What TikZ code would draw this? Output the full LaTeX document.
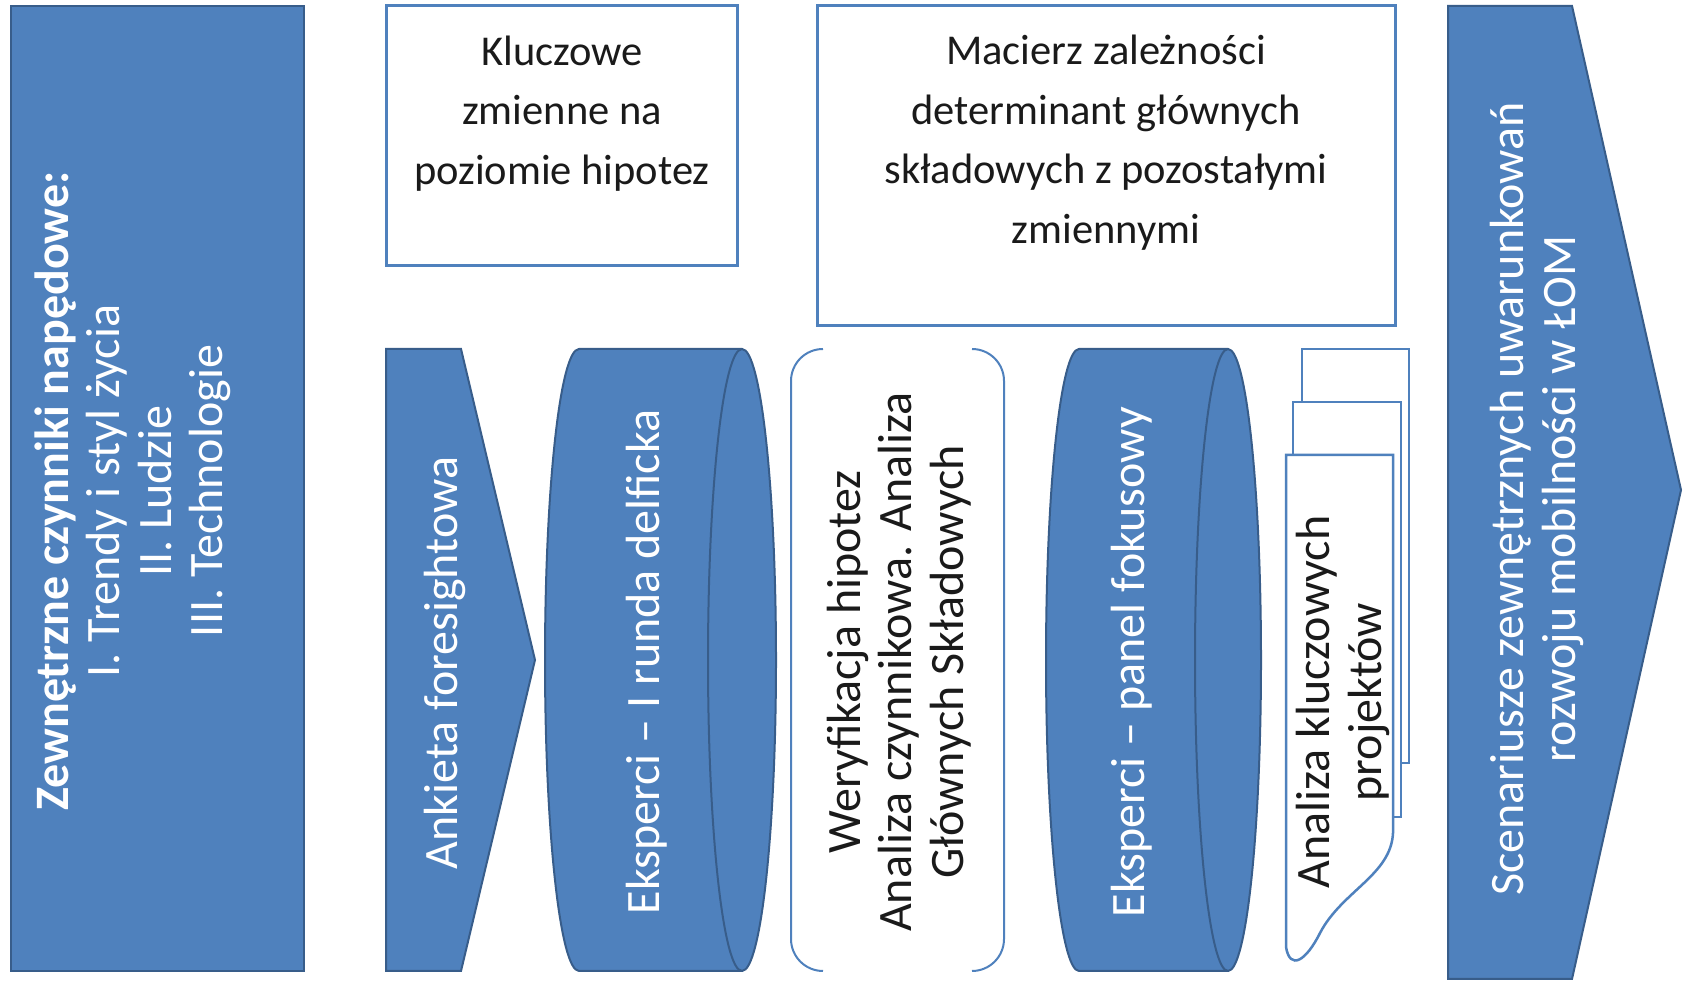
\documentclass[tikz,border=0pt]{standalone}
\usepackage{fontspec}
\setmainfont{Carlito}
\definecolor{bfill}{HTML}{4F81BD}
\definecolor{bline}{HTML}{385D8A}
\definecolor{txt}{HTML}{1A1A1A}
\tikzset{
  bshape/.style={fill=bfill, draw=bline, line width=2pt, line join=miter},
  wbox/.style={fill=white, draw=bfill, line width=3pt},
  wline/.style={draw=bfill, line width=2pt},
  wtxt/.style={text=white, align=center, inner sep=0pt, font=\fontsize{48}{51.5}\selectfont},
  rtxt/.style={text=txt, align=center, inner sep=0pt, font=\fontsize{48}{51.5}\selectfont},
  toptxt/.style={text=txt, align=center, inner sep=0pt, font=\fontsize{42.5}{59.5}\selectfont}
}
\begin{document}
\begin{tikzpicture}[x=1pt,y=1pt]
\useasboundingbox (0,0) rectangle (1683,987);
\fill[white] (0,0) rectangle (1683,987);

% left box
\draw[bshape] (11,16) rectangle (304,981);
\node[wtxt, rotate=90] (drivers) at (133,496) {\textbf{Zewnętrzne czynniki napędowe:}\\I. Trendy i styl życia\\II. Ludzie\\III. Technologie};

% top boxes
\draw[wbox] (386,721) rectangle (737,981);
\node[toptxt] (kluczowe) at (562,873.5) {Kluczowe\\zmienne na\\poziomie hipotez};
\draw[wbox] (817,661) rectangle (1395,981);
\node[toptxt] (macierz) at (1106,844.5) {Macierz zależności\\determinant głównych\\składowych z pozostałymi\\zmiennymi};

% Ankieta pentagon
\draw[bshape] (386,638) -- (461,638) -- (535,327) -- (461,16) -- (386,16) -- cycle;
\node[wtxt, rotate=90] (ankieta) at (445,324) {Ankieta foresightowa};

% cylinder 1
\draw[bshape] (579,638) -- (742,638) arc[start angle=90, end angle=-90, x radius=34, y radius=311]
  -- (579,16) arc[start angle=270, end angle=90, x radius=34, y radius=311] -- cycle;
\draw[draw=bline, line width=2pt] (742,638) arc[start angle=90, end angle=270, x radius=34, y radius=311];
\node[wtxt, rotate=90] (delfi) at (647,325) {Eksperci – I runda delficka};

% bracket box
\draw[wline, rounded corners=32] (823,638) -- (791,638) -- (791,16) -- (823,16);
\draw[wline, rounded corners=32] (972,638) -- (1004,638) -- (1004,16) -- (972,16);
\node[rtxt, rotate=90] (weryf) at (899,325) {Weryfikacja hipotez\\Analiza czynnikowa. Analiza\\Głównych Składowych};

% cylinder 2
\draw[bshape] (1079,638) -- (1228,638) arc[start angle=90, end angle=-90, x radius=33, y radius=311]
  -- (1079,16) arc[start angle=270, end angle=90, x radius=33, y radius=311] -- cycle;
\draw[draw=bline, line width=2pt] (1228,638) arc[start angle=90, end angle=270, x radius=33, y radius=311];
\node[wtxt, rotate=90] (panel) at (1132,325) {Eksperci – panel fokusowy};

% multidocument
\draw[wbox, line width=2.5pt] (1302,638) -- (1409,638) -- (1409,224) -- (1302,224) -- cycle;
\draw[wbox, line width=2.5pt] (1293,585) -- (1401,585) -- (1401,170) -- (1293,170) -- cycle;
\draw[wbox, line width=2.5pt] (1286,532) -- (1393,532) -- (1393,154)
  .. controls (1391,112) and (1342,96) .. (1320,54)
  .. controls (1306,26) and (1290,16) .. (1286,40) -- cycle;
\node[rtxt, rotate=90] (projekty) at (1343,285) {Analiza kluczowych\\projektów};

% right arrow
\draw[bshape] (1448,981) -- (1572,981) -- (1681,497) -- (1572,8) -- (1448,8) -- cycle;
\node[wtxt, rotate=90] (scen) at (1537,488) {Scenariusze zewnętrznych uwarunkowań\\rozwoju mobilności w ŁOM};
\end{tikzpicture}
\end{document}
